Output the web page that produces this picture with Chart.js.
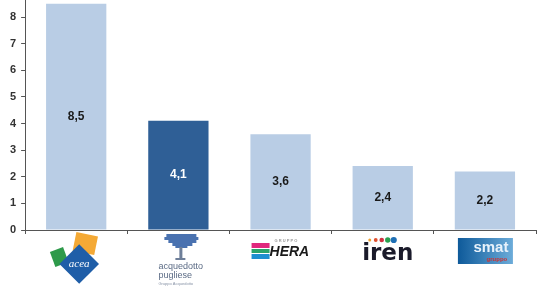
<!DOCTYPE html>
<html><head><meta charset="utf-8">
<script src="https://cdn.jsdelivr.net/npm/chart.js@4/dist/chart.umd.min.js"></script>
<style>html,body{margin:0;padding:0;background:#fff;}#wrap{width:539px;height:290px;}</style>
</head><body><div id="wrap"><canvas id="c" width="539" height="290"></canvas></div>
<script>
const categories = ["acea", "acquedotto pugliese", "HERA", "iren", "smat"];
const values = [8.5, 4.1, 3.6, 2.4, 2.2];
const barColors = ["#b9cde5", "#2f5f96", "#b9cde5", "#b9cde5", "#b9cde5"];
const labelColors = ["#1a1a1a", "#ffffff", "#1a1a1a", "#1a1a1a", "#1a1a1a"];
const yTicks = [0, 1, 2, 3, 4, 5, 6, 7, 8];

const valueLabels = {
  id: 'valueLabels',
  afterDatasetsDraw(chart) {
    const ctx = chart.ctx;
    const meta = chart.getDatasetMeta(0);
    ctx.save();
    ctx.font = 'bold 12px "Liberation Sans", Arial, sans-serif';
    ctx.textAlign = 'center';
    ctx.textBaseline = 'middle';
    meta.data.forEach((bar, i) => {
      const y = (bar.y + bar.base) / 2;
      ctx.fillStyle = labelColors[i];
      ctx.fillText(values[i].toFixed(1).replace('.', ','), bar.x, y);
    });
    ctx.restore();
  }
};

const logos = {
  id: 'logos',
  afterDraw(chart) {
    const ctx = chart.ctx;
    const xs = chart.scales.x;
    const top = chart.chartArea.bottom + 4;
    ctx.save();
    // acea
    let cx = xs.getPixelForValue(0) + 3;
    ctx.fillStyle = '#f4a935';
    ctx.save(); ctx.translate(cx + 6, top + 10); ctx.rotate(0.2); ctx.fillRect(-11, -10, 22, 19); ctx.restore();
    ctx.fillStyle = '#2e9a4a';
    ctx.save(); ctx.translate(cx - 20, top + 23); ctx.rotate(-0.35); ctx.fillRect(-7, -8, 14, 16); ctx.restore();
    ctx.fillStyle = '#1f5ea8';
    ctx.save(); ctx.translate(cx, top + 30); ctx.rotate(Math.PI / 4); ctx.fillRect(-14, -14, 28, 28); ctx.restore();
    ctx.fillStyle = '#ffffff';
    ctx.font = 'italic 11px "Liberation Serif", serif';
    ctx.textAlign = 'center'; ctx.textBaseline = 'middle';
    ctx.fillText('acea', cx, top + 30);

    // acquedotto pugliese
    cx = xs.getPixelForValue(1);
    ctx.fillStyle = '#4a72b0';
    const canopy = [[-12, 0, 30, 3], [-14, 3, 34, 3], [-10, 6, 28, 3], [-6, 9, 20, 3], [-3, 12, 12, 2]];
    canopy.forEach(r => ctx.fillRect(cx + r[0], top + r[1], r[2], r[3]));
    ctx.fillStyle = '#6e7f99';
    ctx.fillRect(cx + 1, top + 13, 3, 12);
    ctx.fillRect(cx - 3, top + 24, 10, 2);
    ctx.fillStyle = '#5b6b85';
    ctx.font = '9px "Liberation Sans", Arial, sans-serif';
    ctx.textAlign = 'left'; ctx.textBaseline = 'middle';
    ctx.fillText('acquedotto', cx - 20, top + 33);
    ctx.fillText('pugliese', cx - 20, top + 42);
    ctx.font = '4px "Liberation Sans", Arial, sans-serif';
    ctx.fillStyle = '#8a95a8';
    ctx.fillText('Gruppo Acquedotto', cx - 20, top + 50);

    // HERA
    cx = xs.getPixelForValue(2);
    const sx = cx - 29, sy = top + 9;
    ctx.fillStyle = '#e0287d'; ctx.fillRect(sx, sy, 18, 5);
    ctx.fillStyle = '#2aa36b'; ctx.fillRect(sx, sy + 6, 18, 4);
    ctx.fillStyle = '#1e8fd0'; ctx.fillRect(sx, sy + 11, 18, 5);
    ctx.fillStyle = '#9a9a9a';
    ctx.font = 'bold 4px "Liberation Sans", Arial, sans-serif';
    ctx.textAlign = 'left';
    ctx.fillText('G R U P P O', cx - 6, top + 7);
    ctx.fillStyle = '#1a1a1a';
    ctx.font = 'italic bold 14px "Liberation Sans", Arial, sans-serif';
    ctx.fillText('HERA', cx - 11, top + 18);

    // iren
    cx = xs.getPixelForValue(3) + 5;
    const dots = ['#f0a030', '#e05030', '#d03040', '#2aa050', '#1f6fb5'];
    dots.forEach((c, i) => { ctx.fillStyle = c; ctx.beginPath(); ctx.arc(cx - 18 + i * 6, top + 6, 1.5 + i * 0.4, 0, Math.PI * 2); ctx.fill(); });
    ctx.fillStyle = '#1a1a2a';
    ctx.font = 'bold 23px "DejaVu Sans", sans-serif';
    ctx.textAlign = 'center';
    ctx.fillText('iren', cx, top + 20);

    // smat
    cx = xs.getPixelForValue(4);
    const g = ctx.createLinearGradient(cx - 27, 0, cx + 27, 0);
    g.addColorStop(0, '#0e5a9a'); g.addColorStop(1, '#6aaad8');
    ctx.fillStyle = g; ctx.fillRect(cx - 27, top + 4, 55, 26);
    ctx.fillStyle = '#e8f2fb';
    ctx.font = 'bold 15px "Liberation Sans", Arial, sans-serif';
    ctx.textAlign = 'center';
    ctx.fillText('smat', cx + 6, top + 14);
    ctx.fillStyle = '#d03030';
    ctx.font = 'bold 6px "Liberation Sans", Arial, sans-serif';
    ctx.fillText('gruppo', cx + 12, top + 25);
    ctx.restore();
  }
};

new Chart(document.getElementById('c'), {
  type: 'bar',
  data: {
    labels: categories,
    datasets: [{ data: values, backgroundColor: barColors, borderWidth: 0, barPercentage: 0.59, categoryPercentage: 1.0 }]
  },
  options: {
    responsive: false,
    animation: false,
    layout: { padding: { left: 5, right: 3, top: 0, bottom: 56 } },
    plugins: { legend: { display: false }, tooltip: { enabled: false } },
    scales: {
      x: {
        ticks: { display: false },
        grid: { display: true, drawOnChartArea: false, drawTicks: true, tickLength: 4, offset: true, color: '#555' },
        border: { display: true, color: '#555', width: 1 }
      },
      y: {
        min: 0, max: 8.64,
        afterBuildTicks(scale) { scale.ticks = yTicks.map(v => ({ value: v })); },
        afterFit(scale) { scale.paddingTop = 0; scale.paddingBottom = 0; },
        ticks: { stepSize: 1, color: '#333', font: { family: '"Liberation Sans", Arial, sans-serif', size: 11, weight: 'bold' }, padding: 5 },
        grid: { display: true, drawOnChartArea: false, drawTicks: true, tickLength: 4, color: '#555' },
        border: { display: true, color: '#555', width: 1 }
      }
    }
  },
  plugins: [valueLabels, logos]
});
</script></body></html>
